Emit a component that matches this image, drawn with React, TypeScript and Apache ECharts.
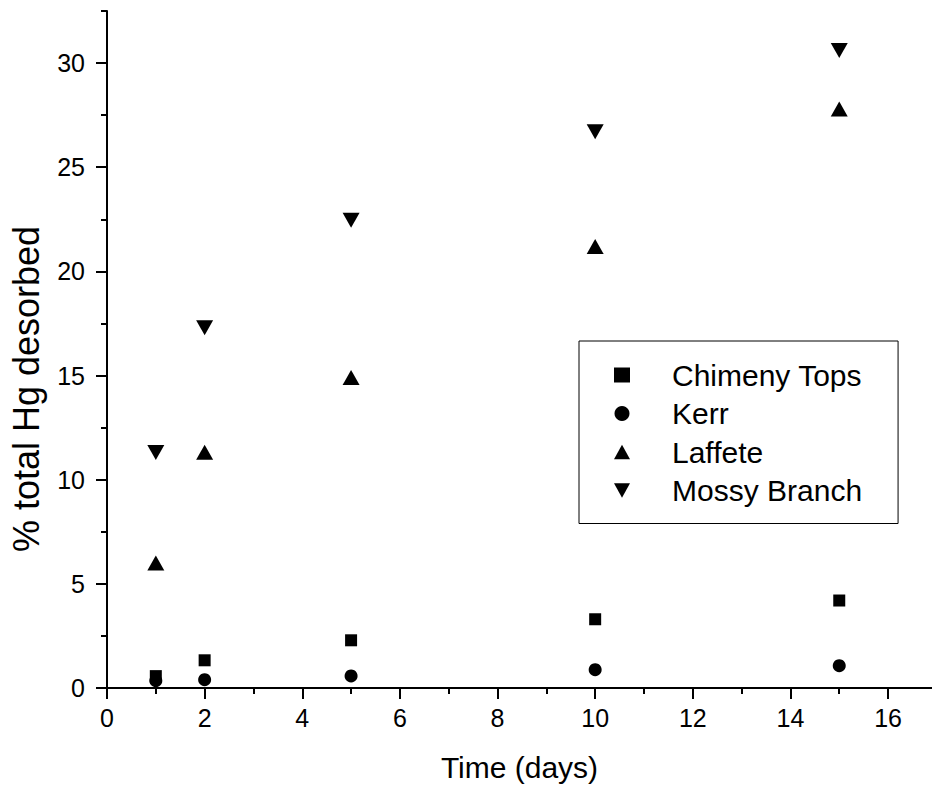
import React, { useEffect, useRef } from "react";
import * as echarts from "echarts";

const days = [1, 2, 5, 10, 15];
const chimenyTops = [0.57, 1.33, 2.29, 3.3, 4.2];
const kerr = [0.35, 0.4, 0.58, 0.88, 1.07];
const laffete = [6.0, 11.32, 14.9, 21.2, 27.8];
const mossyBranch = [11.3, 17.3, 22.45, 26.7, 30.6];
const seriesNames = ["Chimeny Tops", "Kerr", "Laffete", "Mossy Branch"];
const xMajorTicks = [0, 2, 4, 6, 8, 10, 12, 14, 16];
const xMinorTicks = [1, 3, 5, 7, 9, 11, 13, 15];
const yMajorTicks = [0, 5, 10, 15, 20, 25, 30];
const yMinorTicks = [2.5, 7.5, 12.5, 17.5, 22.5, 27.5, 32.5];

const FONT = "'Liberation Sans', Arial, Helvetica, sans-serif";
const DOWN_TRI = "path://M0,0L20,0L10,18Z";
const UP_TRI = "path://M10,0L20,18L0,18Z";

const pair = (ys: number[]) => days.map((d, i) => [d, ys[i]]);

export default function App() {
  const ref = useRef<HTMLDivElement>(null);
  useEffect(() => {
    if (!ref.current) return;
    const chart = echarts.init(ref.current, undefined, { renderer: "svg" });
    const axisLine = { show: true, lineStyle: { color: "#000", width: 2 } };
    const xRange = { min: 0, max: 16.9 };
    const yRange = { min: 0, max: 32.5 };
    const markStyle = { color: "#000", opacity: 1 };
    chart.setOption({
      animation: false,
      backgroundColor: "#fff",
      grid: { left: 107, right: 0, top: 11, bottom: 98, containLabel: false },
      xAxis: [
        {
          type: "value",
          ...xRange,
          position: "bottom",
          axisLine,
          splitLine: { show: false },
          axisTick: { show: true, inside: false, length: 11, customValues: xMajorTicks, lineStyle: { color: "#000", width: 2 } },
          axisLabel: { customValues: xMajorTicks, margin: 17, fontSize: 25, color: "#000", fontFamily: FONT },
          name: "Time (days)",
          nameLocation: "middle",
          nameGap: 64,
          nameTextStyle: { fontSize: 30, color: "#000", fontFamily: FONT },
        },
        {
          type: "value",
          ...xRange,
          position: "bottom",
          axisLine: { show: false },
          splitLine: { show: false },
          axisTick: { show: true, inside: false, length: 6, customValues: xMinorTicks, lineStyle: { color: "#000", width: 2 } },
          axisLabel: { show: false },
        },
      ],
      yAxis: [
        {
          type: "value",
          ...yRange,
          position: "left",
          axisLine,
          splitLine: { show: false },
          axisTick: { show: true, inside: false, length: 11, customValues: yMajorTicks, lineStyle: { color: "#000", width: 2 } },
          axisLabel: { customValues: yMajorTicks, margin: 22, fontSize: 25, color: "#000", fontFamily: FONT },
        },
        {
          type: "value",
          ...yRange,
          position: "left",
          axisLine: { show: false },
          splitLine: { show: false },
          axisTick: { show: true, inside: false, length: 6, customValues: yMinorTicks, lineStyle: { color: "#000", width: 2 } },
          axisLabel: { show: false },
        },
      ],
      legend: {
        orient: "vertical",
        left: 579,
        top: 341,
        padding: [19, 36, 18, 35],
        itemGap: 8.5,
        itemWidth: 16,
        itemHeight: 15,
        borderColor: "#000",
        borderWidth: 1,
        backgroundColor: "#fff",
        itemStyle: { opacity: 1 },
        textStyle: { fontSize: 30, lineHeight: 30, color: "#000", fontFamily: FONT, padding: [0, 0, 0, 37] },
        data: [
          { name: seriesNames[0], icon: "rect" },
          { name: seriesNames[1], icon: "circle" },
          { name: seriesNames[2], icon: UP_TRI },
          { name: seriesNames[3], icon: DOWN_TRI },
        ],
      },
      graphic: [
        {
          type: "text",
          x: 26,
          y: 389,
          rotation: Math.PI / 2,
          style: {
            text: "% total Hg desorbed",
            fontSize: 36,
            fontFamily: FONT,
            fill: "#000",
            textAlign: "center",
            textVerticalAlign: "middle",
          },
        },
      ],
      series: [
        {
          name: seriesNames[1],
          type: "scatter",
          data: pair(kerr),
          symbol: "circle",
          symbolSize: 13,
          itemStyle: markStyle,
          z: 2,
        },
        {
          name: seriesNames[2],
          type: "scatter",
          data: pair(laffete),
          symbol: UP_TRI,
          symbolSize: [17, 15],
          itemStyle: markStyle,
          z: 2,
        },
        {
          name: seriesNames[3],
          type: "scatter",
          data: pair(mossyBranch),
          symbol: DOWN_TRI,
          symbolSize: [17, 15],
          itemStyle: markStyle,
          z: 2,
        },
        {
          name: seriesNames[0],
          type: "scatter",
          data: pair(chimenyTops),
          symbol: "rect",
          symbolSize: 12,
          itemStyle: markStyle,
          z: 3,
        },
      ],
    });
    return () => chart.dispose();
  }, []);
  return (
    <div
      ref={ref}
      style={{ position: "absolute", left: 0, top: 0, width: 932, height: 787 }}
    />
  );
}
